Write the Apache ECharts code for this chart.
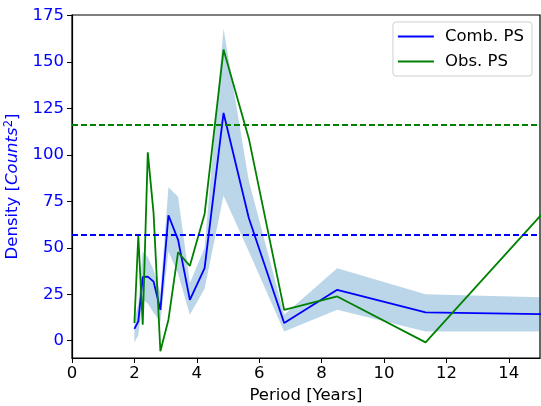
<!DOCTYPE html>
<html><head><meta charset="utf-8">
<script src="https://cdn.jsdelivr.net/npm/echarts@6/dist/echarts.min.js"></script>
<style>html,body{margin:0;padding:0;background:#fff}#c{width:541px;height:406px}</style>
</head><body><div id="c"></div>
<script>
const periods = [2.0, 2.125, 2.267, 2.429, 2.615, 2.833, 3.091, 3.4, 3.778, 4.25, 4.857, 5.667, 6.8, 8.5, 11.333, 17];
const combPS = [6.4, 10.4, 34.2, 34.5, 31.8, 16.6, 67.5, 54.2, 22.0, 39.0, 122.5, 66, 9.5, 27.4, 15.2, 13.8];
const obsPS = [9.5, 56.5, 8.6, 101.3, 68.5, -5.7, 11.3, 47.6, 40.3, 68.2, 156.6, 108.8, 16.6, 23.8, -0.9, 104];
const bandLower = [-1, 3, 22, 20, 15, 10, 48, 36, 14, 28, 78, 48, 5, 16.6, 5, 5];
const bandUpper = [11, 20, 48, 45, 38, 25.6, 82.5, 77.5, 31, 50, 168, 86, 14, 39, 25, 22.5];
const combLevel = 57;
const obsLevel = 116;
const yTicks = [0, 25, 50, 75, 100, 125, 150, 175];
const xTicks = [0, 2, 4, 6, 8, 10, 12, 14];

const FONT = 'DejaVu Sans';
const FS = 16.5;
const LW = 1.8;
const chart = echarts.init(document.getElementById('c'), null, {renderer: 'canvas'});
const pair = (xs, ys) => xs.map((x, i) => [x, ys[i]]);

function renderBand(params, api) {
  const pts = [];
  for (let i = 0; i < periods.length; i++) pts.push(api.coord([periods[i], bandUpper[i]]));
  for (let i = periods.length - 1; i >= 0; i--) pts.push(api.coord([periods[i], bandLower[i]]));
  return {
    type: 'polygon',
    shape: {points: pts},
    style: {fill: 'rgba(31,119,180,0.3)', stroke: 'none'}
  };
}

chart.setOption({
  animation: false,
  backgroundColor: '#fff',
  grid: {left: 72, right: 1, top: 15, bottom: 48, containLabel: false, outerBoundsMode: 'none',
         show: true, borderColor: '#000', borderWidth: 1.2, backgroundColor: 'transparent'},
  legend: {
    right: 9, top: 22, orient: 'vertical',
    data: [{name: 'Comb. PS', icon: 'rect'}, {name: 'Obs. PS', icon: 'rect'}],
    itemWidth: 36, itemHeight: LW, itemGap: 8,
    textStyle: {fontFamily: FONT, fontSize: FS, color: '#000', padding: [0, 0, 0, 6]},
    backgroundColor: '#fff', borderColor: '#d0d0d0', borderWidth: 1, borderRadius: 3,
    padding: [6, 8, 6, 5]
  },
  xAxis: {
    type: 'value', min: 0, max: 15, interval: 2,
    name: 'Period [Years]', nameLocation: 'middle', nameGap: 26,
    nameTextStyle: {fontFamily: FONT, fontSize: FS, color: '#000'},
    axisLine: {show: true, onZero: false, lineStyle: {color: '#000', width: 1.2}},
    axisTick: {show: true, inside: false, length: 5, lineStyle: {color: '#000'}, customValues: xTicks},
    axisLabel: {fontFamily: FONT, fontSize: FS, color: '#000', margin: 7, customValues: xTicks},
    splitLine: {show: false}
  },
  yAxis: {
    type: 'value', min: -9.3, max: 175.2,
    name: '{a|Density [}{b|Counts}{c|2}{a|]}', nameLocation: 'middle', nameGap: 40,
    nameTextStyle: {
      fontFamily: FONT, fontSize: FS, color: '#0000ff',
      rich: {
        a: {fontFamily: FONT, fontSize: FS, color: '#0000ff'},
        b: {fontFamily: FONT, fontSize: FS, fontStyle: 'italic', color: '#0000ff'},
        c: {fontFamily: FONT, fontSize: 11.5, color: '#0000ff', verticalAlign: 'bottom', padding: [0, 0, 9, 0]}
      }
    },
    axisLine: {show: true, onZero: false, lineStyle: {color: '#000', width: 1.2}},
    axisTick: {show: true, inside: false, length: 5, lineStyle: {color: '#000'}, customValues: yTicks},
    axisLabel: {fontFamily: FONT, fontSize: FS, color: '#0000ff', margin: 8, customValues: yTicks},
    splitLine: {show: false}
  },
  series: [
    {
      name: 'band', type: 'custom', renderItem: renderBand, data: [[0, 0]],
      clip: true, silent: true, z: 1
    },
    {
      name: 'Comb. PS', type: 'line', data: pair(periods, combPS), symbol: 'none',
      color: '#0000ff', lineStyle: {color: '#0000ff', width: LW}, z: 3,
      markLine: {
        silent: true, symbol: 'none', label: {show: false},
        lineStyle: {color: '#0000ff', width: LW, type: [6, 3]},
        data: [{yAxis: combLevel}]
      }
    },
    {
      name: 'Obs. PS', type: 'line', data: pair(periods, obsPS), symbol: 'none',
      color: '#008000', lineStyle: {color: '#008000', width: LW}, z: 3,
      markLine: {
        silent: true, symbol: 'none', label: {show: false},
        lineStyle: {color: '#008000', width: LW, type: [6, 3]},
        data: [{yAxis: obsLevel}]
      }
    }
  ]
});
</script></body></html>
